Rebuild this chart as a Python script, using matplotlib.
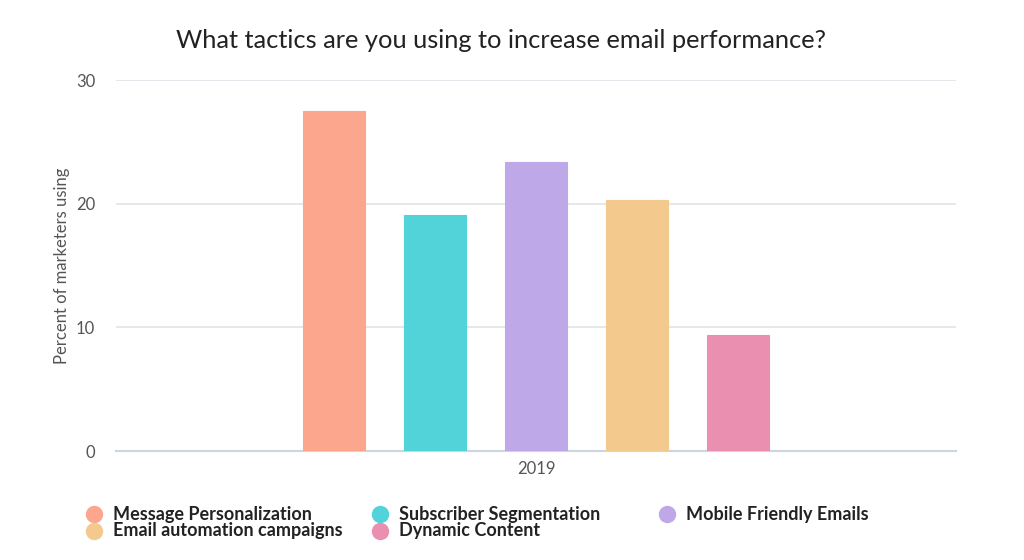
import matplotlib
matplotlib.use("Agg")
import matplotlib.pyplot as plt
from matplotlib.lines import Line2D
import numpy as np

plt.rcParams["font.family"] = ["Lato", "DejaVu Sans"]

# data
CATEGORY = "2019"
TACTICS = ["Message Personalization", "Subscriber Segmentation", "Mobile Friendly Emails",
           "Email automation campaigns", "Dynamic Content"]
VALUES = [27.5, 19.1, 23.4, 20.3, 9.4]
COLORS = ["#fca68e", "#52d3d9", "#bea8e8", "#f4c98e", "#ea8fb0"]
YTICKS = [0, 10, 20, 30]

fig = plt.figure(figsize=(10.24, 5.6), dpi=100)
ax = fig.add_axes([0.1133, 0.1946, 0.8203, 0.6625])

pitch = 0.1202
width = 0.0732
offsets = (np.arange(len(VALUES)) - (len(VALUES) - 1) / 2) * pitch
for off, v, c in zip(offsets, VALUES, COLORS):
    ax.bar(off, v, width=width, color=c, edgecolor=c, linewidth=0.8, zorder=3)

ax.set_xlim(-0.5, 0.5)
ax.set_ylim(0, 30)
ax.set_yticks(YTICKS)
ax.set_xticks([0])
ax.set_xticklabels([CATEGORY])
ax.tick_params(axis="both", length=0, labelsize=12, colors="#555555", pad=7)
ax.tick_params(axis="y", pad=15)
ax.grid(axis="y", color="#dfe3e8", linewidth=1.2, zorder=0)
for s in ("top", "right", "left"):
    ax.spines[s].set_visible(False)
ax.spines["bottom"].set_color("#cbd6e2")
ax.spines["bottom"].set_linewidth(1.5)

ax.set_ylabel("Percent of marketers using", fontsize=12, color="#555555", labelpad=4)
fig.text(0.489, 0.927, "What tactics are you using to increase email performance?",
         ha="center", va="center", fontsize=18.3, color="#222222")

# legend laid out as in the reference: 3 fixed-width columns, row-major
col_x = [0.0918, 0.3711, 0.6514]
row_y = [0.0821, 0.0518]
for i, (name, c) in enumerate(zip(TACTICS, COLORS)):
    x = col_x[i % 3]
    y = row_y[i // 3]
    fig.add_artist(Line2D([x], [y], transform=fig.transFigure, marker="o", linestyle="none",
                          markersize=11.5, markerfacecolor=c, markeredgecolor=c))
    fig.text(x + 0.0186, y, name, ha="left", va="center", fontsize=13,
             fontweight="bold", color="#222222")

fig.savefig("out.png", dpi=100)
